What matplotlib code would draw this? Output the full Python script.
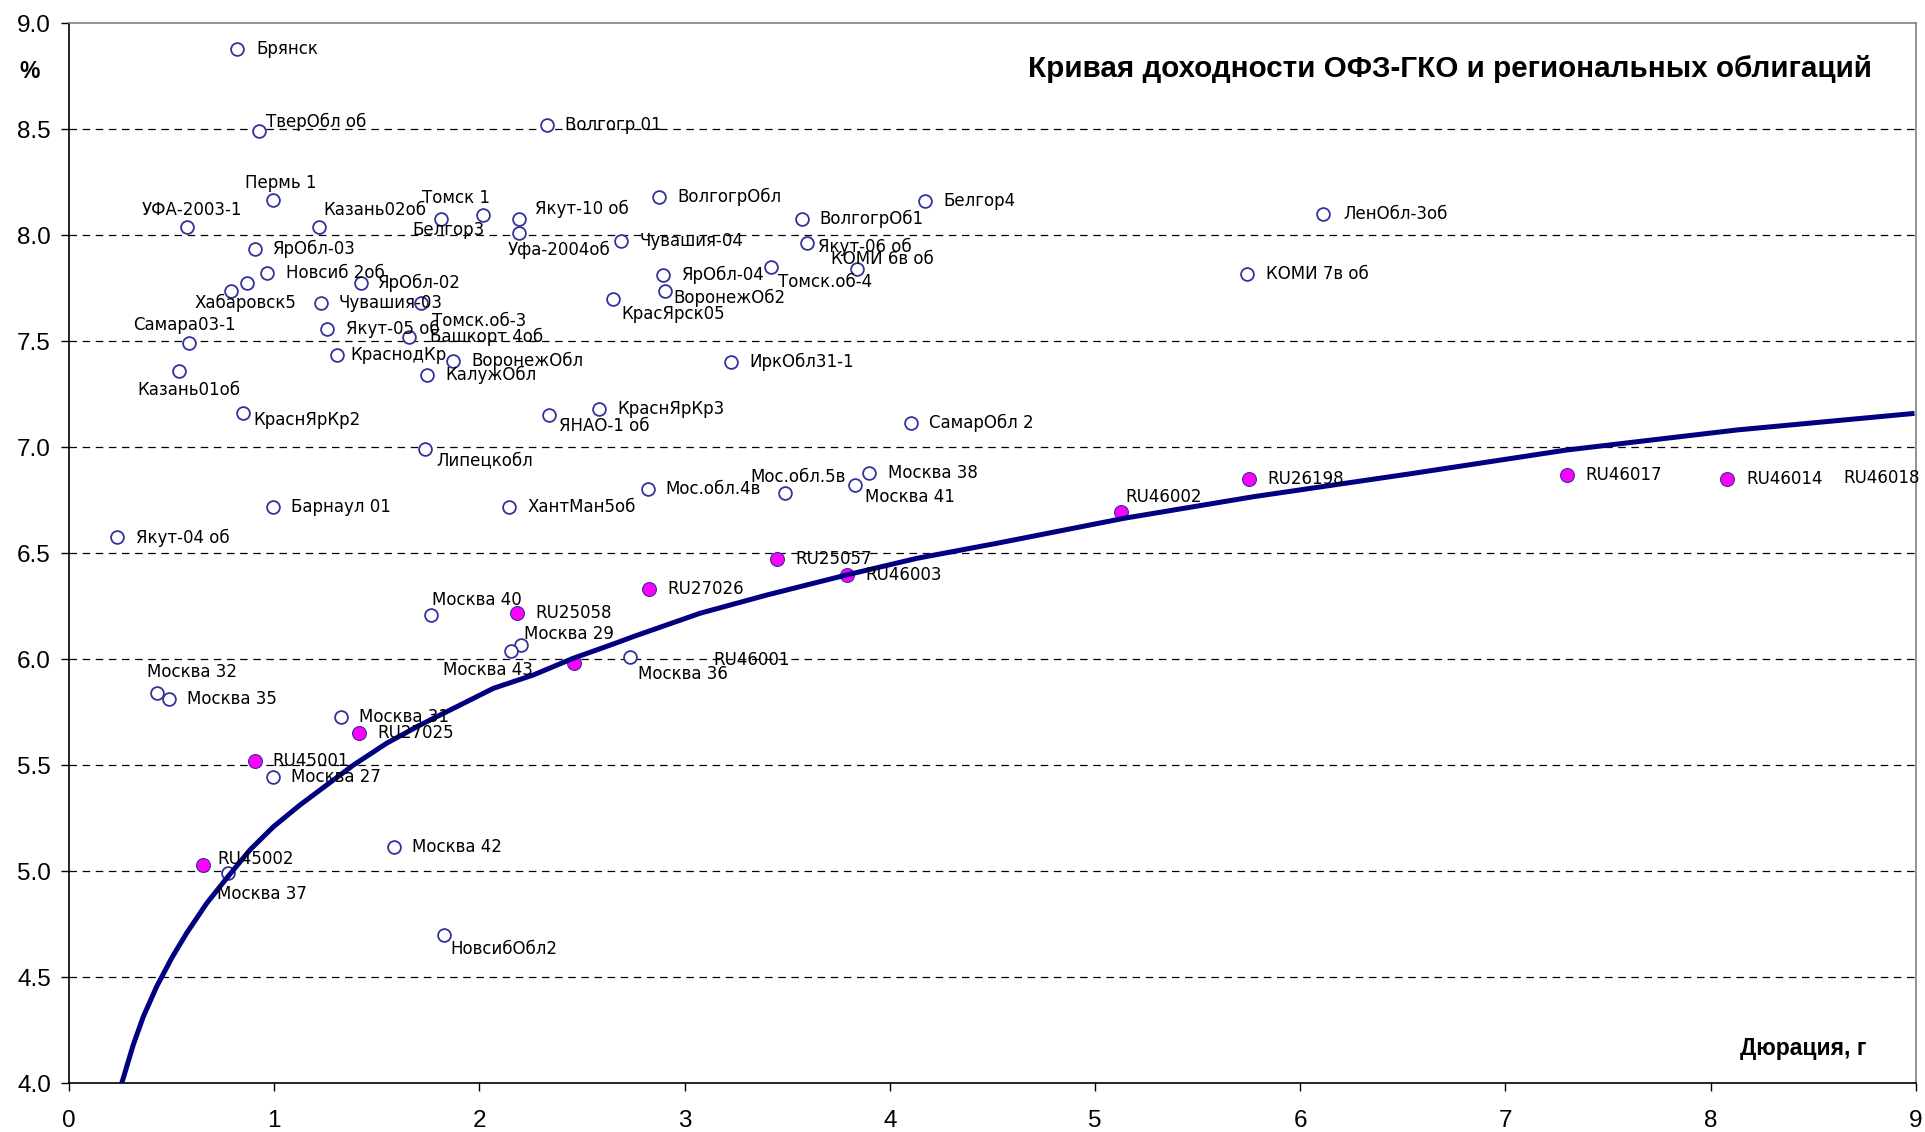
import matplotlib
matplotlib.use("Agg")
import matplotlib.pyplot as plt
from matplotlib.ticker import FixedLocator, FormatStrFormatter

# ---------------- data ----------------
region_names = ["Брянск", "ТверОбл об", "Волгогр 01", "Пермь 1", "УФА-2003-1", "Казань02об",
                "Белгор3", "Томск 1", "Якут-10 об", "Уфа-2004об", "ЯрОбл-03", "Новсиб 2об",
                "", "Хабаровск5", "ЯрОбл-02", "Чувашия-03", "Томск.об-3", "Якут-05 об",
                "Башкорт 4об", "Самара03-1", "КраснодКр", "ВоронежОбл", "КалужОбл", "Казань01об",
                "КраснЯрКр2", "ЯНАО-1 об", "КраснЯрКр3", "Липецкобл", "Барнаул 01", "Якут-04 об",
                "ХантМан5об", "Москва 40", "Москва 29", "Москва 43", "Москва 32", "Москва 35",
                "Москва 31", "Москва 27", "Москва 42", "Москва 37", "НовсибОбл2", "Москва 36",
                "Чувашия-04", "ВолгогрОбл", "Белгор4", "ВолгогрОб1", "Якут-06 об", "КОМИ 6в об",
                "Томск.об-4", "ЯрОбл-04", "ВоронежОб2", "КрасЯрск05", "ИркОбл31-1", "СамарОбл 2",
                "Мос.обл.4в", "Мос.обл.5в", "Москва 38", "Москва 41", "ЛенОбл-3об", "КОМИ 7в об"]
region_x = [0.819, 0.926, 2.331, 0.996, 0.575, 1.218,
            1.813, 2.016, 2.195, 2.195, 0.908, 0.965,
            0.867, 0.789, 1.423, 1.228, 1.714, 1.256,
            1.657, 0.586, 1.306, 1.873, 1.746, 0.536,
            0.846, 2.341, 2.583, 1.735, 0.996, 0.234,
            2.146, 1.764, 2.204, 2.154, 0.429, 0.489,
            1.326, 0.992, 1.586, 0.776, 1.829, 2.732,
            2.692, 2.877, 4.173, 3.571, 3.597, 3.842,
            3.423, 2.895, 2.906, 2.653, 3.228, 4.105,
            2.820, 3.489, 3.900, 3.832, 6.113, 5.739]
region_y = [8.879, 8.492, 8.520, 8.168, 8.038, 8.038,
            8.077, 8.096, 8.077, 8.012, 7.935, 7.821,
            7.775, 7.737, 7.775, 7.679, 7.679, 7.557,
            7.519, 7.491, 7.435, 7.408, 7.341, 7.358,
            7.162, 7.151, 7.179, 6.992, 6.718, 6.575,
            6.718, 6.208, 6.069, 6.038, 5.841, 5.811,
            5.728, 5.443, 5.113, 4.993, 4.698, 6.012,
            7.975, 8.181, 8.162, 8.077, 7.964, 7.842,
            7.850, 7.813, 7.737, 7.700, 7.401, 7.115,
            6.803, 6.783, 6.877, 6.821, 8.102, 7.817]

ofz_names = ["RU45002", "RU45001", "RU27025", "RU25058", "RU46001", "RU27026",
             "RU25057", "RU46003", "RU46002", "RU26198", "RU46017", "RU46014"]
ofz_x = [0.652, 0.905, 1.413, 2.185, 2.461, 2.828, 3.452, 3.790, 5.129, 5.753, 7.302, 8.082]
ofz_y = [5.030, 5.520, 5.652, 6.217, 5.981, 6.330, 6.472, 6.396, 6.693, 6.849, 6.869, 6.850]

extra_label = "RU46018"
extra_label_x = 8.649
extra_label_y = 6.857

curve_x = [0.257, 0.313, 0.362, 0.427, 0.500, 0.573, 0.671, 0.768, 0.882, 0.996,
           1.126, 1.256, 1.386, 1.548, 1.711, 1.922, 2.068, 2.263, 2.458, 2.661,
           2.75, 3.075, 3.40, 3.79, 4.131, 4.537, 5.141, 5.773, 6.55, 7.297, 8.131, 8.994]
curve_y = [4.000, 4.181, 4.314, 4.456, 4.590, 4.708, 4.849, 4.967, 5.101, 5.210,
           5.313, 5.407, 5.501, 5.604, 5.690, 5.792, 5.863, 5.926, 6.005, 6.075,
           6.107, 6.217, 6.303, 6.398, 6.476, 6.55, 6.665, 6.767, 6.877, 6.987, 7.082, 7.160]

y_ticks = [4.0, 4.5, 5.0, 5.5, 6.0, 6.5, 7.0, 7.5, 8.0, 8.5, 9.0]
x_ticks = [0, 1, 2, 3, 4, 5, 6, 7, 8, 9]

# ---------------- label placement (pixel offsets: dx right, dy down) ----------------
region_offsets = [(19, 0), (7, -9), (18, 0), (-28, -17), (-45, -17), (4, -17),
                  (-29, 11), (-61, -17), (16, -10), (-12, 17), (18, 0), (19, 0),
                  (0, 0), (-36, 12), (17, 0), (18, 0), (11, 18), (19, 0),
                  (21, 0), (-56, -18), (13, 0), (18, 0), (18, 0), (-42, 19),
                  (11, 7), (10, 11), (18, 0), (11, 11), (18, 0), (19, 0),
                  (18, 0), (1, -15), (3, -11), (-68, 19), (-10, -21), (18, 0),
                  (18, 0), (18, 0), (18, 0), (-11, 21), (6, 14), (8, 17),
                  (18, 0), (18, 0), (18, 0), (18, 0), (11, 4), (-26, -10),
                  (7, 15), (19, 0), (8, 7), (8, 15), (18, 0), (18, 0),
                  (18, 0), (-35, -16), (19, 0), (10, 12), (20, 0), (19, 0)]
ofz_offsets = [(15, -6), (18, 0), (18, 0), (18, 0), (139, -3), (18, 0),
               (18, 0), (19, 0), (4, -15), (18, 0), (18, 0), (19, 0)]

# ---------------- figure ----------------
W, H, DPI = 1925, 1132, 100
fig = plt.figure(figsize=(W / DPI, H / DPI), dpi=DPI)
fig.patch.set_facecolor("white")
ax = fig.add_axes([69 / W, 1 - 1083.3 / H, (1915.7 - 69) / W, (1083.3 - 23.3) / H])

ax.set_xlim(0, 9)
ax.set_ylim(4.0, 9.0)

for yv in y_ticks:
    if 4.0 < yv < 9.0:
        ax.axhline(yv, color="black", lw=0.9, ls=(0, (6, 4.5)), zorder=1)

label_font = dict(family=["DejaVu Sans"], fontsize=12, color="black")

ax.plot(region_x, region_y, ls="none", marker="o", markersize=9.2,
        markerfacecolor="white", markeredgecolor="#333399", markeredgewidth=1.3, zorder=3)
ax.plot(ofz_x, ofz_y, ls="none", marker="o", markersize=10,
        markerfacecolor="#FF00FF", markeredgecolor="#333399", markeredgewidth=0.8, zorder=3)
ax.plot(curve_x, curve_y, color="#000080", lw=3.6, solid_capstyle="butt",
        solid_joinstyle="round", zorder=4)

for n, x, y, (dx, dy) in zip(region_names, region_x, region_y, region_offsets):
    if n:
        ax.annotate(n, (x, y), xytext=(dx, -dy), textcoords="offset pixels",
                    ha="left", va="center", zorder=5, **label_font)
for n, x, y, (dx, dy) in zip(ofz_names, ofz_x, ofz_y, ofz_offsets):
    ax.annotate(n, (x, y), xytext=(dx, -dy), textcoords="offset pixels",
                ha="left", va="center", zorder=5, **label_font)
ax.text(extra_label_x, extra_label_y, extra_label, ha="left", va="center",
        zorder=5, clip_on=False, **label_font)

# axes styling
ax.xaxis.set_major_locator(FixedLocator(x_ticks))
ax.yaxis.set_major_locator(FixedLocator(y_ticks))
ax.yaxis.set_major_formatter(FormatStrFormatter("%.1f"))
ax.tick_params(axis="both", direction="out", length=6, width=1, color="black",
               labelsize=17.5, pad=7)
ax.tick_params(axis="x", pad=13)
for lab in ax.get_xticklabels() + ax.get_yticklabels():
    lab.set_family("Liberation Sans")

ax.spines["left"].set_color("black")
ax.spines["bottom"].set_color("black")
ax.spines["top"].set_color("#808080")
ax.spines["right"].set_color("#808080")
for s in ax.spines.values():
    s.set_linewidth(1.2)

fig.text(1872 / W, 1 - 69 / H, "Кривая доходности ОФЗ-ГКО и региональных облигаций",
         ha="right", va="center", fontsize=21.3, fontweight="bold", family="Liberation Sans")
fig.text(30 / W, 1 - 72 / H, "%", ha="center", va="center", fontsize=16.5,
         fontweight="bold", family="Liberation Sans")
fig.text(1866 / W, 1 - 1049 / H, "Дюрация, г", ha="right", va="center", fontsize=16.5,
         fontweight="bold", family="Liberation Sans")

fig.savefig("out.png", dpi=DPI, facecolor="white")
